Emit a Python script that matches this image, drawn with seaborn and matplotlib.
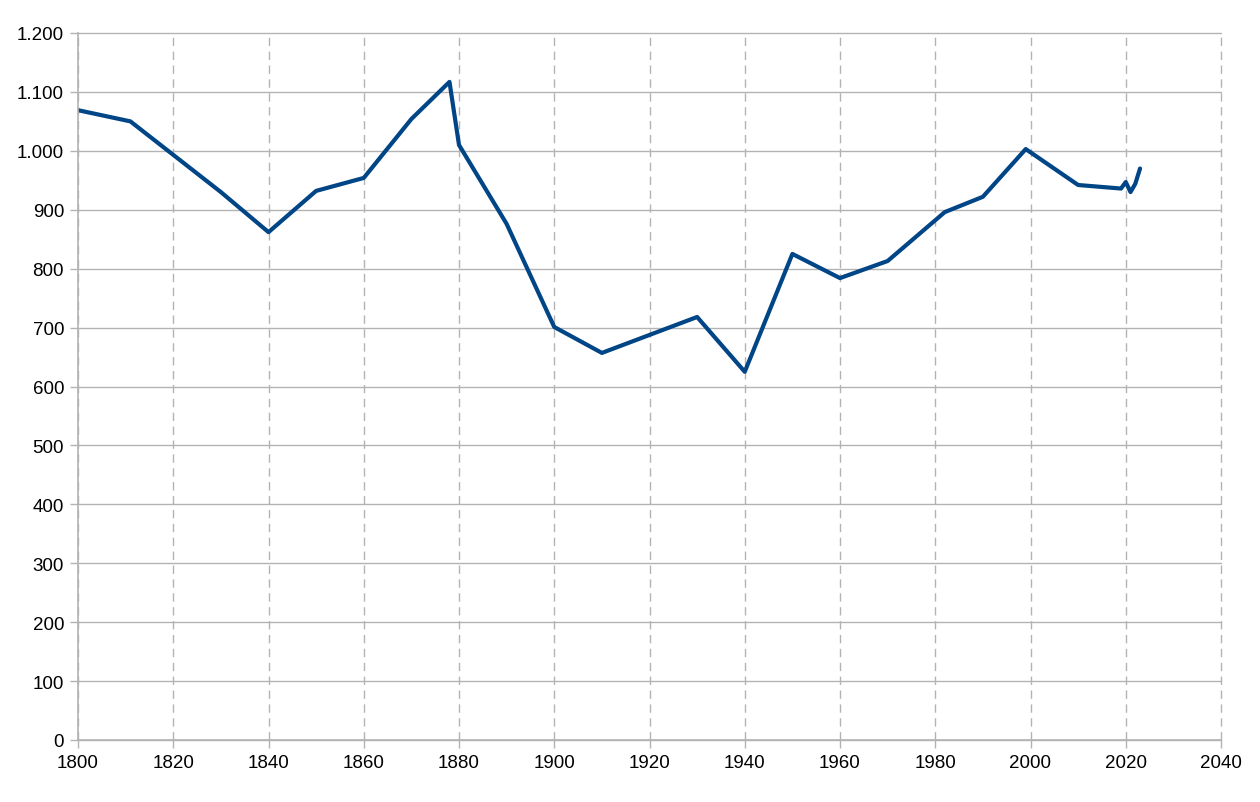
import pandas as pd
import seaborn as sns
import matplotlib
matplotlib.use("Agg")
import matplotlib.pyplot as plt
from matplotlib.ticker import FuncFormatter, MultipleLocator

# Podaci procitani sa grafika
years = [1800, 1811, 1830, 1840, 1850, 1860, 1870, 1878, 1880, 1890, 1900, 1910,
         1930, 1940, 1950, 1960, 1970, 1982, 1990, 1999, 2010, 2019, 2020, 2021,
         2022, 2023]
values = [1069, 1050, 930, 862, 932, 954, 1054, 1117, 1010, 876, 701, 657,
          718, 625, 825, 784, 813, 896, 922, 1003, 942, 936, 947, 930,
          944, 970]

df = pd.DataFrame({"Year": years, "Value": values})

sns.set_style("white")
plt.rcParams["font.family"] = ["Liberation Sans", "DejaVu Sans"]

fig = plt.figure(figsize=(12.6, 8.03), dpi=100)
ax = fig.add_axes([78 / 1260, 1 - 741 / 803, (1221 - 78) / 1260, (741 - 34) / 803])

sns.lineplot(data=df, x="Year", y="Value", color="#004586", linewidth=3.0, ax=ax)

ax.set_xlim(1800, 2040)
ax.set_ylim(0, 1200)
ax.xaxis.set_major_locator(MultipleLocator(20))
ax.yaxis.set_major_locator(MultipleLocator(100))
ax.yaxis.set_major_formatter(FuncFormatter(lambda v, p: f"{int(v):,}".replace(",", ".")))

ax.grid(axis="y", color="#b3b3b3", linewidth=1.0, linestyle="-")
ax.grid(axis="x", color="#b3b3b3", linewidth=1.0, linestyle=(0, (6, 4)))
ax.set_axisbelow(True)
# gridline na 2040 i 1200 inace bude odsecen na ivici
for gl in ax.get_xgridlines() + ax.get_ygridlines():
    gl.set_clip_on(False)

for side in ["top", "right"]:
    ax.spines[side].set_visible(False)
for side in ["left", "bottom"]:
    ax.spines[side].set_color("#b3b3b3")
    ax.spines[side].set_linewidth(1.2)

ax.tick_params(axis="both", which="major", length=6, width=1.0, color="#b3b3b3",
               labelsize=13.5, labelcolor="black", direction="out", pad=4)
ax.tick_params(left=True, bottom=True)
ax.set_xlabel("")
ax.set_ylabel("")

fig.savefig("out.png", dpi=100)
